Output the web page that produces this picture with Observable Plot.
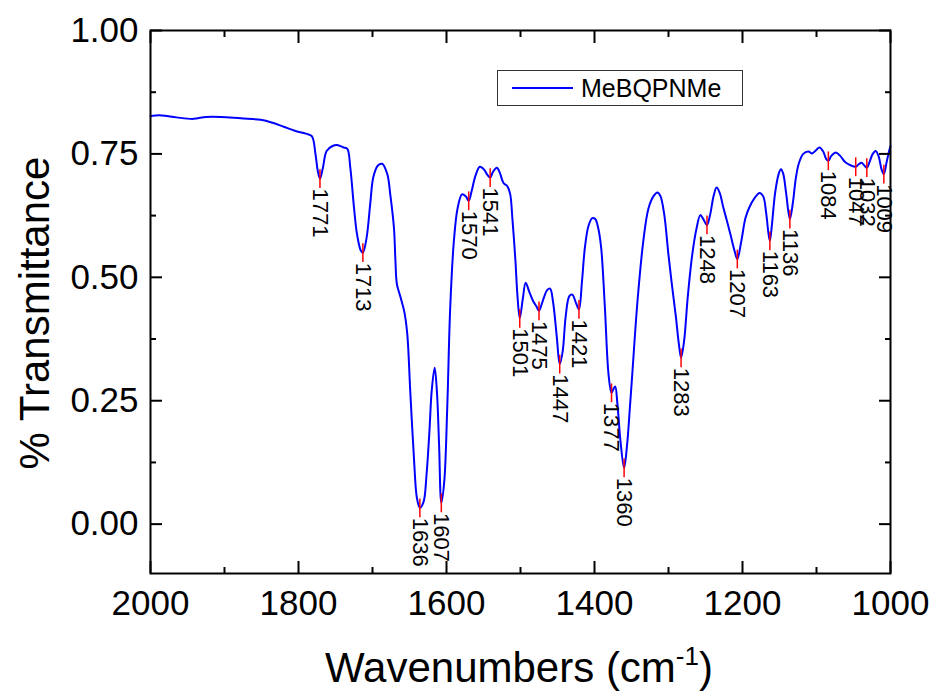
<!DOCTYPE html>
<html>
<head>
<meta charset="utf-8">
<script src="https://cdn.jsdelivr.net/npm/d3@7"></script>
<script src="https://cdn.jsdelivr.net/npm/@observablehq/plot@0.6"></script>
<style>
  body { margin: 0; background: #fff; }
  #wrap { position: relative; width: 932px; height: 694px; font-family: "Liberation Sans", Arial, Helvetica, sans-serif; }
  #legend { position: absolute; left: 497px; top: 70px; width: 246px; height: 36px; border: 1px solid #333; box-sizing: border-box; background: #fff; }
  #legend .swatch { position: absolute; left: 14px; top: 16px; width: 61px; height: 2px; background: #0000ff; }
  #legend .lab { position: absolute; left: 83px; top: 3px; font-size: 25px; line-height: 28px; color: #000; white-space: nowrap; }
</style>
</head>
<body>
<div id="wrap">
  <div id="chart"></div>
  <div id="legend"><div class="swatch"></div><div class="lab">MeBQPNMe</div></div>
</div>
<script>
// ---- data ----
const wavenumbers = [
  2000,1985,1965,1942,1925,1905,1878,1851,1835,1820,1805,1790,1782,1777,1774,1771,1767,1762,1754,1748,
  1739,1734,1730,1725,1721,1716,1713,1708,1703,1699,1693,1687,1680,1676,1671,1669,1667,1662,1657,1653,
  1649,1644,1640,1636,1631,1627,1623,1620,1616,1613,1610,1607,1603,1599,1595,1590,1585,1579,1574,1570,
  1566,1561,1555,1549,1545,1541,1537,1532,1528,1523,1518,1514,1511,1507,1504,1501,1497,1493,1488,1483,
  1478,1475,1470,1464,1460,1456,1451,1447,1443,1439,1434,1430,1425,1421,1417,1413,1408,1403,1399,1395,
  1391,1386,1381,1377,1374,1372,1369,1365,1360,1356,1352,1349,1342,1334,1327,1320,1315,1311,1306,1300,
  1295,1290,1286,1283,1279,1274,1268,1262,1257,1253,1248,1244,1239,1235,1231,1226,1221,1216,1211,1207,
  1202,1196,1191,1184,1177,1172,1168,1165,1163,1160,1156,1151,1148,1145,1141,1136,1132,1128,1124,1118,
  1111,1106,1101,1096,1091,1087,1084,1080,1074,1068,1061,1054,1047,1043,1039,1035,1032,1028,1024,1020,
  1016,1012,1009,1005,1002,1000
];
const transmittance = [
  0.827,0.828,0.824,0.821,0.825,0.825,0.822,0.819,0.813,0.805,0.797,0.791,0.786,0.749,0.716,0.700,0.722,0.756,0.766,0.768,
  0.763,0.760,0.722,0.641,0.588,0.555,0.550,0.580,0.650,0.702,0.726,0.730,0.709,0.668,0.600,0.533,0.486,0.459,0.430,0.385,
  0.270,0.134,0.053,0.033,0.045,0.100,0.190,0.270,0.317,0.270,0.160,0.043,0.087,0.236,0.438,0.574,0.640,0.668,0.664,0.655,
  0.675,0.705,0.724,0.718,0.708,0.702,0.714,0.722,0.712,0.691,0.685,0.669,0.620,0.537,0.460,0.417,0.455,0.489,0.470,0.452,
  0.440,0.432,0.452,0.474,0.477,0.450,0.380,0.324,0.350,0.420,0.462,0.465,0.448,0.435,0.490,0.560,0.605,0.620,0.618,0.600,
  0.560,0.440,0.303,0.266,0.275,0.279,0.243,0.170,0.114,0.160,0.240,0.303,0.450,0.574,0.640,0.665,0.672,0.665,0.630,0.545,
  0.480,0.420,0.365,0.337,0.370,0.460,0.545,0.600,0.626,0.618,0.606,0.625,0.665,0.682,0.672,0.642,0.614,0.585,0.555,0.537,
  0.570,0.620,0.641,0.660,0.671,0.664,0.630,0.590,0.574,0.610,0.670,0.710,0.719,0.710,0.670,0.618,0.650,0.700,0.730,0.750,
  0.755,0.751,0.757,0.763,0.755,0.740,0.736,0.746,0.753,0.746,0.733,0.727,0.724,0.729,0.732,0.726,0.722,0.735,0.750,0.756,
  0.745,0.718,0.709,0.735,0.755,0.766
];
const peakWavenumbers = [1771,1713,1636,1607,1570,1541,1501,1475,1447,1421,1377,1360,1283,1248,1207,1163,1136,1084,1047,1032,1009];
const peakTransmittance = [0.700,0.550,0.033,0.043,0.655,0.702,0.417,0.432,0.324,0.435,0.266,0.114,0.337,0.606,0.537,0.574,0.618,0.736,0.724,0.722,0.709];

const xMajorTicks = [2000,1800,1600,1400,1200,1000];
const xMinorTicks = [1900,1700,1500,1300,1100];
const yMajorTicks = [0,0.25,0.5,0.75,1];
const yMinorTicks = [0.125,0.375,0.625,0.875];

const seriesName = "MeBQPNMe";

// ---- tables built from the arrays ----
const spectrum = wavenumbers.map((w, i) => ({w, t: transmittance[i]}));
const peaks = peakWavenumbers.map((w, i) => ({w, t: peakTransmittance[i]}));

const markAbove = 0.018, markBelow = 0.02; // red marker length (in transmittance units)

const chart = Plot.plot({
  width: 932,
  height: 694,
  marginTop: 30,
  marginLeft: 150,
  marginRight: 42,
  marginBottom: 121,
  style: {fontFamily: '"Liberation Sans", Arial, Helvetica, sans-serif', background: "#fff", color: "#000"},
  x: {domain: [2000, 1000], axis: null, label: null},
  y: {domain: [-0.1, 1.0], axis: null, label: null},
  marks: [
    Plot.line(spectrum, {x: "w", y: "t", stroke: "#0000ff", strokeWidth: 2, curve: "catmull-rom"}),
    Plot.ruleX(peaks, {x: "w", y1: d => d.t - markBelow, y2: d => d.t + markAbove, stroke: "#ff0000", strokeWidth: 1.5}),
    Plot.text(peaks, {x: "w", y: "t", text: d => String(d.w), rotate: 90, textAnchor: "start", lineAnchor: "middle", dy: 10, fontSize: 22, fill: "#000"}),
    // ticks (inward, all four sides)
    Plot.axisX(xMajorTicks, {anchor: "bottom", tickSize: -12, fill: "none", strokeWidth: 2, label: null}),
    Plot.axisX(xMinorTicks, {anchor: "bottom", tickSize: -6, fill: "none", strokeWidth: 2, label: null}),
    Plot.axisX(xMajorTicks, {anchor: "top", tickSize: -12, fill: "none", strokeWidth: 2, label: null}),
    Plot.axisX(xMinorTicks, {anchor: "top", tickSize: -6, fill: "none", strokeWidth: 2, label: null}),
    Plot.axisY(yMajorTicks, {anchor: "left", tickSize: -12, fill: "none", strokeWidth: 2, label: null}),
    Plot.axisY(yMinorTicks, {anchor: "left", tickSize: -6, fill: "none", strokeWidth: 2, label: null}),
    Plot.axisY(yMajorTicks, {anchor: "right", tickSize: -12, fill: "none", strokeWidth: 2, label: null}),
    Plot.axisY(yMinorTicks, {anchor: "right", tickSize: -6, fill: "none", strokeWidth: 2, label: null}),
    // tick labels
    Plot.axisX(xMajorTicks, {anchor: "bottom", tickSize: 0, tickPadding: 17, fontSize: 35, tickFormat: d => String(d), label: null}),
    Plot.axisY(yMajorTicks, {anchor: "left", tickSize: 0, tickPadding: 12, fontSize: 35, tickFormat: d3.format(".2f"), label: null}),
    Plot.frame({stroke: "#000", strokeWidth: 2})
  ]
});

document.getElementById("chart").appendChild(chart);

// axis titles
const svg = d3.select(chart);
const xt = svg.append("text")
  .attr("x", 519).attr("y", 682)
  .attr("text-anchor", "middle")
  .attr("font-size", 42)
  .attr("fill", "#000");
xt.append("tspan").text("Wavenumbers (cm");
xt.append("tspan").attr("dy", -17).attr("font-size", 26).text("-1");
xt.append("tspan").attr("dy", 17).text(")");

svg.append("text")
  .attr("transform", "translate(49,313) rotate(-90)")
  .attr("text-anchor", "middle")
  .attr("font-size", 42)
  .attr("fill", "#000")
  .text("% Transmittance");
</script>
</body>
</html>
